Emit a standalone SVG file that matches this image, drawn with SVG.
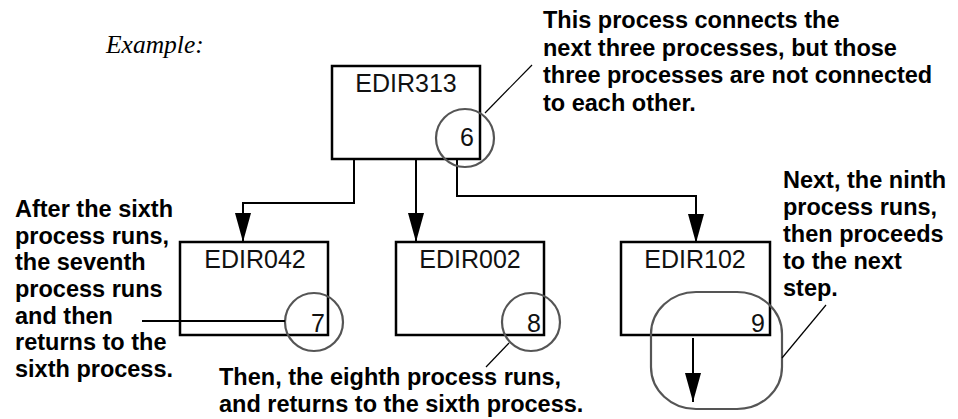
<svg xmlns="http://www.w3.org/2000/svg" width="958" height="419" viewBox="0 0 958 419">
<style>
.box{fill:#fff;stroke:#000;stroke-width:2.5}
.lbl{font-family:"Liberation Sans",Arial,sans-serif;font-size:25px;fill:#111}
.num{font-family:"Liberation Sans",Arial,sans-serif;font-size:25px;fill:#111;text-anchor:end}
.note{font-family:"Liberation Sans",Arial,sans-serif;font-size:23.5px;font-weight:bold;fill:#000}
.ring{fill:none;stroke:#555;stroke-width:2.2}
.conn{fill:none;stroke:#000;stroke-width:2}
.call{fill:none;stroke:#000;stroke-width:1.2}
.arrow{fill:#000}
</style>
<rect width="958" height="419" fill="#fff"/>
<text x="106" y="53" style="font-family:'Liberation Serif','Times New Roman',serif;font-style:italic;font-size:25.5px">Example:</text>
<g id="connectors">
<path class="conn" d="M354,159 V203 H243 V242"/>
<path class="arrow" d="M235,213 L251,213 L243,242 Z"/>
<path class="conn" d="M416,159 V242"/>
<path class="arrow" d="M408,213 L424,213 L416,242 Z"/>
<path class="conn" d="M457,159 V196 H696 V243"/>
<path class="arrow" d="M688,214 L704,214 L696,243 Z"/>
<path class="conn" d="M693,338 V402"/>
<path class="arrow" d="M685,373 L701,373 L693,402 Z"/>
</g>
<g id="EDIR313">
<rect class="box" x="332" y="66" width="148" height="93"/>
<text class="lbl" x="406" y="92" text-anchor="middle">EDIR313</text>
</g>
<g id="EDIR042">
<rect class="box" x="180" y="242" width="148" height="93"/>
<text class="lbl" x="255" y="268" text-anchor="middle">EDIR042</text>
</g>
<g id="EDIR002">
<rect class="box" x="396" y="242" width="148" height="93"/>
<text class="lbl" x="470" y="268" text-anchor="middle">EDIR002</text>
</g>
<g id="EDIR102">
<rect class="box" x="621" y="242" width="149" height="93"/>
<text class="lbl" x="695" y="268" text-anchor="middle">EDIR102</text>
</g>
<g id="step6">
<circle class="ring" cx="465" cy="138" r="29"/>
<text class="num" x="474" y="146">6</text>
</g>
<g id="step7">
<circle class="ring" cx="314" cy="322" r="29"/>
<text class="num" x="325" y="332">7</text>
</g>
<g id="step8">
<circle class="ring" cx="531" cy="322" r="29"/>
<text class="num" x="541" y="332">8</text>
</g>
<g id="step9">
<rect class="ring" x="651" y="292" width="131" height="117" rx="45" ry="42"/>
<text class="num" x="765" y="332">9</text>
</g>
<g id="callouts">
<line class="call" x1="485" y1="113" x2="532" y2="65"/>
<line class="conn" x1="142" y1="321" x2="285" y2="321"/>
<line class="call" x1="509" y1="343" x2="486" y2="367"/>
<line class="call" x1="782" y1="358" x2="826" y2="305"/>
</g>
<g id="note-top">
<text class="note" x="543" y="28">This process connects the</text>
<text class="note" x="543" y="55.5">next three processes, but those</text>
<text class="note" x="543" y="83">three processes are not connected</text>
<text class="note" x="543" y="110.5">to each other.</text>
</g>
<g id="note-left">
<text class="note" x="15" y="217">After the sixth</text>
<text class="note" x="15" y="243.7">process runs,</text>
<text class="note" x="15" y="270.4">the seventh</text>
<text class="note" x="15" y="297">process runs</text>
<text class="note" x="15" y="323.7">and then</text>
<text class="note" x="15" y="350.4">returns to the</text>
<text class="note" x="15" y="377">sixth process.</text>
</g>
<g id="note-right">
<text class="note" x="783" y="188">Next, the ninth</text>
<text class="note" x="783" y="215">process runs,</text>
<text class="note" x="783" y="242">then proceeds</text>
<text class="note" x="783" y="269">to the next</text>
<text class="note" x="783" y="296">step.</text>
</g>
<g id="note-bottom">
<text class="note" x="219" y="385">Then, the eighth process runs,</text>
<text class="note" x="219" y="412">and returns to the sixth process.</text>
</g>
</svg>
